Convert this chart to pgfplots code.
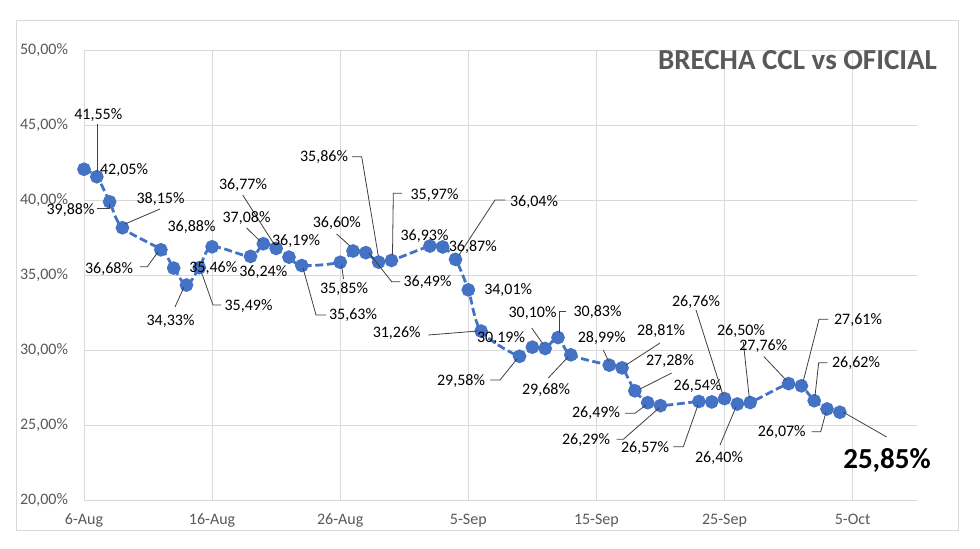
\documentclass[border=0pt]{standalone}
\usepackage{pgfplots}
\pgfplotsset{compat=1.18}
\usepackage{fontspec}
\setmainfont{Carlito}
\definecolor{ser}{HTML}{4472C4}
\definecolor{tickc}{HTML}{595959}
\definecolor{grd}{HTML}{D9D9D9}
\pgfplotstableread{
d v
0 42.05
1 41.55
2 39.88
3 38.15
6 36.68
7 35.46
8 34.33
9 35.49
10 36.88
13 36.24
14 37.08
15 36.77
16 36.19
17 35.63
20 35.85
21 36.60
22 36.49
23 35.86
24 35.97
27 36.93
28 36.87
29 36.04
30 34.01
31 31.26
34 29.58
35 30.19
36 30.10
37 30.83
38 29.68
41 28.99
42 28.81
43 27.28
44 26.49
45 26.29
48 26.57
49 26.54
50 26.76
51 26.40
52 26.50
55 27.76
56 27.61
57 26.62
58 26.07
59 25.85
}\brecha
\newcommand{\dlab}[3]{\node[font=\fontsize{8}{9.6}\selectfont, text=black, inner sep=0pt] at (#1,#2) {#3};}
\begin{document}
\begin{tikzpicture}
\fill[white] (0,0) rectangle (490pt,274pt);
\begin{axis}[at={(42pt,24pt)}, anchor=south west,
  width=416.35pt, height=225pt, scale only axis,
  xmin=0, xmax=65, ymin=20, ymax=50,
  xtick={0,10,...,60},
  xticklabels={6-Aug,16-Aug,26-Aug,5-Sep,15-Sep,25-Sep,5-Oct},
  ytick={20,25,...,50},
  yticklabels={{20,00\%},{25,00\%},{30,00\%},{35,00\%},{40,00\%},{45,00\%},{50,00\%}},
  grid=major, major grid style={grd, line width=0.5pt},
  axis line style={draw=none}, major tick length=0pt,
  tick label style={font=\fontsize{8}{9.6}\selectfont, text=tickc},
  yticklabel style={xshift=-4.5pt}, xticklabel style={yshift=-3.5pt},
  clip=false]
\addplot[ser, line width=1.4pt, dash pattern=on 4pt off 1.8pt, smooth, tension=0.5,
  mark=*, mark size=2.7pt, mark options={solid, fill=ser, draw=ser}] table[x=d, y=v] {\brecha};
\end{axis}
\draw[grd, line width=0.5pt] (8.35pt,9pt) rectangle (479pt,263.65pt);
\begin{scope}[x=0.5pt, y=-0.5pt, yshift=274pt]
\node[font=\fontsize{14.5}{16}\selectfont\bfseries, text=tickc, inner sep=0pt] at (797.5,60) {BRECHA CCL vs OFICIAL};
\begin{scope}[black!75, line width=0.4pt]
\draw (97.3,124)--(97.3,172);
\draw (97,208.3)--(109.3,208.3)--(109.3,204);
\draw (160,209)--(125,224);
\draw (140,266.7)--(147.3,266.7)--(158,252);
\draw (175,307)--(184,287);
\draw (221,305)--(213,305)--(201,271);
\draw (246.7,228)--(260,241);
\draw (242.7,195)--(274,244);
\draw (326,315)--(316,315)--(303,268);
\draw (343.5,279)--(341.6,265);
\draw (336.7,234)--(350,246);
\draw (352,156.7)--(361.7,156.7)--(378.3,256);
\draw (400,281.7)--(391.7,281.7)--(369,253);
\draw (402,193.3)--(393.3,193.3)--(392.5,255);
\draw (505,200)--(495,200)--(459,255);
\draw (428.3,335)--(478,331);
\draw (490,380)--(500,380)--(517,359);
\draw (531.7,328)--(543,344);
\draw (566,311.7)--(559.3,311.7)--(559.3,333);
\draw (548.3,378)--(568,357);
\draw (603.3,350)--(608.5,361);
\draw (660,343)--(626,365);
\draw (671.7,373)--(640,389);
\draw (625,413.3)--(635,413.3)--(646,405);
\draw (616.7,439.3)--(623.3,439.3)--(659,408);
\draw (673.3,446.7)--(683.3,446.7)--(698,405);
\draw (696,310)--(723,395);
\draw (720,445)--(736,407);
\draw (743.3,342)--(749.3,398);
\draw (764,356.7)--(786,380);
\draw (828.3,319.3)--(819,319.3)--(803.3,381);
\draw (827.3,362.7)--(818.7,362.7)--(815,396);
\draw (811.7,431.7)--(820.7,431.7)--(826,412);
\draw (886.7,437)--(843,412);
\end{scope}
\dlab{124}{170}{42,05\%}
\dlab{98.3}{115}{41,55\%}
\dlab{70.5}{210}{39,88\%}
\dlab{160.5}{199}{38,15\%}
\dlab{109}{269}{36,68\%}
\dlab{213.3}{268.3}{35,46\%}
\dlab{170.5}{320.7}{34,33\%}
\dlab{248.5}{306}{35,49\%}
\dlab{191.5}{227.3}{36,88\%}
\dlab{263.3}{271.7}{36,24\%}
\dlab{246.5}{217.7}{37,08\%}
\dlab{243}{185}{36,77\%}
\dlab{296}{241}{36,19\%}
\dlab{353}{315}{35,63\%}
\dlab{344}{289}{35,85\%}
\dlab{336.8}{223.3}{36,60\%}
\dlab{324}{157}{35,86\%}
\dlab{427.5}{281.7}{36,49\%}
\dlab{434.5}{195}{35,97\%}
\dlab{424.5}{236}{36,93\%}
\dlab{472.8}{246.7}{36,87\%}
\dlab{534}{201.7}{36,04\%}
\dlab{508.2}{290}{34,01\%}
\dlab{396.7}{333.3}{31,26\%}
\dlab{501}{338.3}{30,19\%}
\dlab{461}{381.5}{29,58\%}
\dlab{532.5}{313.3}{30,10\%}
\dlab{597.5}{312.5}{30,83\%}
\dlab{546}{390}{29,68\%}
\dlab{601.8}{338.3}{28,99\%}
\dlab{661}{330.7}{28,81\%}
\dlab{670}{361}{27,28\%}
\dlab{596}{413.3}{26,49\%}
\dlab{586}{440}{26,29\%}
\dlab{645}{448.3}{26,57\%}
\dlab{697.5}{386}{26,54\%}
\dlab{696}{301.7}{26,76\%}
\dlab{719}{458.3}{26,40\%}
\dlab{741}{330.7}{26,50\%}
\dlab{763.3}{345.7}{27,76\%}
\dlab{858}{320}{27,61\%}
\dlab{856}{363.3}{26,62\%}
\dlab{781.7}{431.7}{26,07\%}
\node[font=\fontsize{14.5}{16}\selectfont\bfseries, text=black, inner sep=0pt] at (887,460) {25,85\%};
\end{scope}
\end{tikzpicture}
\end{document}
